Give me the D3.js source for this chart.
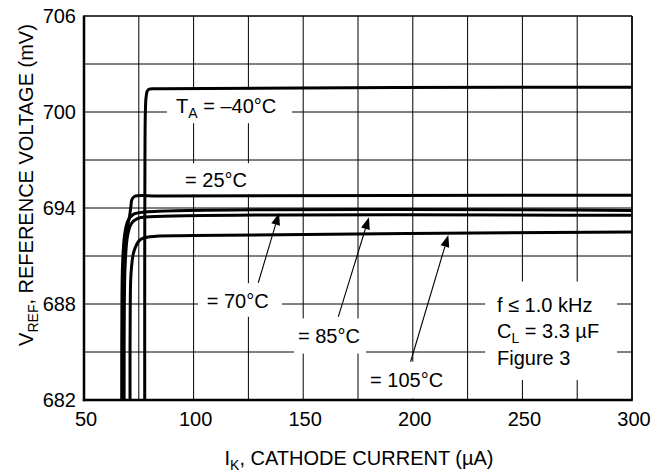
<!DOCTYPE html>
<html>
<head>
<meta charset="utf-8">
<script src="https://cdn.jsdelivr.net/npm/d3@7"></script>
<style>
  body { margin: 0; background: #fff; }
  svg { display: block; font-family: "Liberation Sans", Arial, sans-serif; }
</style>
</head>
<body>
<div id="chart"></div>
<script>
// Axis ticks
const xTicks = [50, 100, 150, 200, 250, 300];
const yTicks = [682, 688, 694, 700, 706];
const xGrid = d3.range(50, 301, 25);
const yGrid = d3.range(682, 707, 3);

// Curves: cathode current (uA) / reference voltage (mV)
const curveM40I = [77.7, 77.7, 77.8, 78.0, 78.4, 79.3, 85, 300];
const curveM40V = [682, 690, 697, 700, 701, 701.4, 701.45, 701.55];
const curve25I = [67.9, 68.0, 68.3, 69.3, 70.8, 71.4, 71.8, 73, 85, 300];
const curve25V = [682, 688, 690.8, 692.4, 693.5, 694.1, 694.5, 694.72, 694.75, 694.8];
const curve70I = [67.2, 67.3, 67.6, 68.5, 70, 72.5, 78, 300];
const curve70V = [682, 688, 690.5, 692.3, 693.2, 693.6, 693.75, 693.85];
const curve85I = [68.3, 68.4, 68.8, 69.8, 71.5, 74.5, 80, 300];
const curve85V = [682, 688, 690.5, 692.2, 693.0, 693.35, 693.45, 693.55];
const curve105I = [71.0, 71.1, 71.5, 72.8, 75.5, 80, 100, 300];
const curve105V = [682, 688, 690, 691.3, 692.0, 692.2, 692.28, 692.5];

const curves = [
  [curveM40I, curveM40V], [curve25I, curve25V], [curve70I, curve70V],
  [curve85I, curve85V], [curve105I, curve105V]
];

// Dimensions
const W = 659, H = 472;
const margin = { top: 16, right: 27, bottom: 72, left: 84 };
const width = W - margin.left - margin.right;
const height = H - margin.top - margin.bottom;
const fontSize = 20;

const svg = d3.select("#chart").append("svg").attr("width", W).attr("height", H);
const g = svg.append("g").attr("transform", `translate(${margin.left},${margin.top})`);

const x = d3.scaleLinear().domain([50, 300]).range([0, width]);
const y = d3.scaleLinear().domain([682, 706]).range([height, 0]);

// Grid
g.selectAll(".vgrid").data(xGrid).enter().append("line")
  .attr("x1", d => x(d)).attr("x2", d => x(d)).attr("y1", 0).attr("y2", height)
  .attr("stroke", "#000").attr("stroke-width", 1);
g.selectAll(".hgrid").data(yGrid).enter().append("line")
  .attr("x1", 0).attr("x2", width).attr("y1", d => y(d)).attr("y2", d => y(d))
  .attr("stroke", "#000").attr("stroke-width", 1);

// White boxes behind annotation text (data units: I0, I1, V0, V1)
const boxes = [
  [87.8, 144.9, 701.4, 699.3],
  [92.9, 129.4, 696.8, 694.85],
  [102, 140.3, 689.3, 687.2],
  [145.8, 178.6, 687.1, 684.9],
  [178.6, 217.9, 684.4, 682.1],
  [233, 293.2, 689.4, 683.25]
];
g.selectAll(".box").data(boxes).enter().append("rect")
  .attr("x", d => x(d[0])).attr("width", d => x(d[1]) - x(d[0]))
  .attr("y", d => y(d[2])).attr("height", d => y(d[3]) - y(d[2]))
  .attr("fill", "#fff");

// Frame
g.append("line").attr("x1", 0).attr("x2", width).attr("y1", 0).attr("y2", 0).attr("stroke", "#000").attr("stroke-width", 1.2);
g.append("line").attr("x1", width).attr("x2", width).attr("y1", 0).attr("y2", height).attr("stroke", "#000").attr("stroke-width", 1.6);
g.append("line").attr("x1", 0).attr("x2", 0).attr("y1", -0.6).attr("y2", height + 1.2).attr("stroke", "#000").attr("stroke-width", 2.5);
g.append("line").attr("x1", -1.2).attr("x2", width + 0.8).attr("y1", height).attr("y2", height).attr("stroke", "#000").attr("stroke-width", 2.5);

// Curves
const line = d3.line().x(d => x(d[0])).y(d => y(d[1])).curve(d3.curveCatmullRom.alpha(0.5));
curves.forEach(([I, V]) => {
  g.append("path").datum(I.map((v, i) => [v, V[i]]))
    .attr("fill", "none").attr("stroke", "#000").attr("stroke-width", 3)
    .attr("stroke-linejoin", "round").attr("d", line);
});

// Arrows: from (I,V) to tip (I,V)
const arrows = [
  [129.5, 689.33, 139, 693.69],
  [166, 687.2, 180, 693.42],
  [199, 684.39, 216.2, 692.31]
];
arrows.forEach(a => {
  const x0 = x(a[0]), y0 = y(a[1]), x1 = x(a[2]), y1 = y(a[3]);
  const ang = Math.atan2(y1 - y0, x1 - x0);
  const len = 12, half = 4.5;
  const bx = x1 - len * Math.cos(ang), by = y1 - len * Math.sin(ang);
  g.append("line").attr("x1", x0).attr("y1", y0).attr("x2", bx).attr("y2", by)
    .attr("stroke", "#000").attr("stroke-width", 1.1);
  g.append("path")
    .attr("d", `M${x1},${y1}L${bx - half * Math.sin(ang)},${by + half * Math.cos(ang)}L${bx + half * Math.sin(ang)},${by - half * Math.cos(ang)}Z`)
    .attr("fill", "#000");
});

// Text helper with optional subscript
function subText(parent, px, py, main, sub, rest, anchor) {
  const t = parent.append("text").attr("x", px).attr("y", py)
    .attr("font-size", fontSize).attr("fill", "#000").attr("text-anchor", anchor || "start");
  t.append("tspan").text(main);
  if (sub) {
    t.append("tspan").attr("dy", 5).attr("font-size", 14).text(sub);
    t.append("tspan").attr("dy", -5).text(rest);
  }
  return t;
}

// Curve labels
subText(g, x(92), y(699.94), "T", "A", " = \u201340\u00B0C");
subText(g, x(96.1), y(695.3), "= 25\u00B0C");
subText(g, x(106), y(687.75), "= 70\u00B0C");
subText(g, x(147.6), y(685.56), "= 85\u00B0C");
subText(g, x(180.5), y(682.83), "= 105\u00B0C");

// Conditions note
subText(g, x(238.4), y(687.52), "f \u2264 1.0 kHz");
subText(g, x(238.4), y(685.88), "C", "L", " = 3.3 \u00B5F");
subText(g, x(238.4), y(684.2), "Figure 3");

// Tick labels
g.selectAll(".xt").data(xTicks).enter().append("text")
  .attr("x", d => x(d) + 2).attr("y", height + 26)
  .attr("text-anchor", "middle").attr("font-size", fontSize).text(d => d);
g.selectAll(".yt").data(yTicks).enter().append("text")
  .attr("x", -8).attr("y", d => y(d) + 7)
  .attr("text-anchor", "end").attr("font-size", fontSize).text(d => d);

// Axis titles
subText(svg, 359, 465, "I", "K", ", CATHODE CURRENT (\u00B5A)", "middle");
const yt = svg.append("g").attr("transform", "translate(33,185) rotate(-90)");
subText(yt, 0, 0, "V", "REF", ", REFERENCE VOLTAGE (mV)", "middle");
</script>
</body>
</html>
